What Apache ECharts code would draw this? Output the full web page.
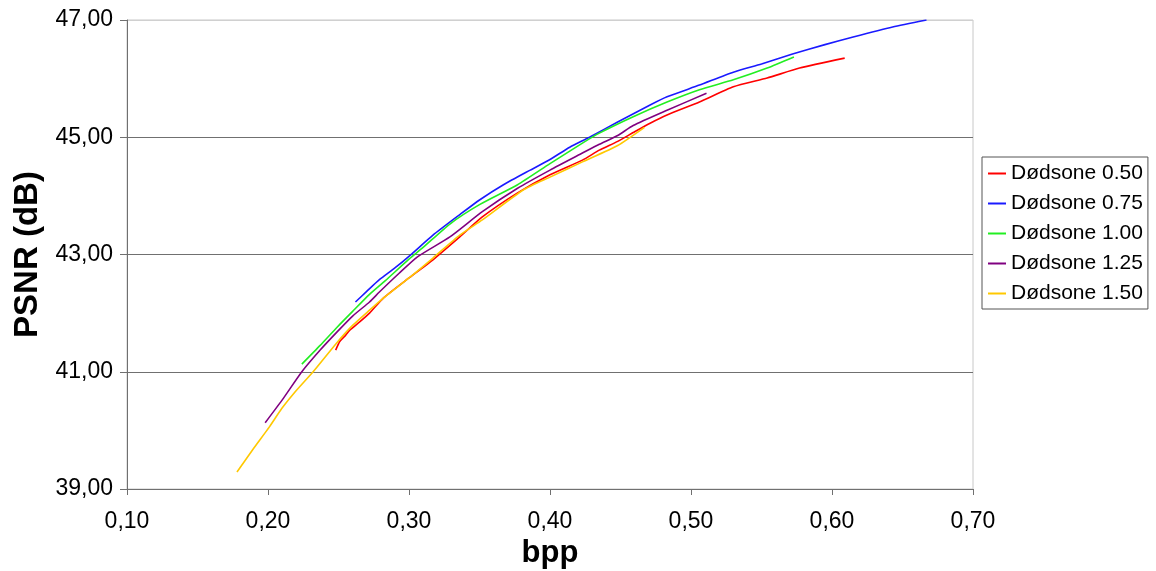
<!DOCTYPE html>
<html>
<head>
<meta charset="utf-8">
<script src="https://cdn.jsdelivr.net/npm/echarts@6/dist/echarts.min.js"></script>
<style>
html,body{margin:0;padding:0;background:#fff;}
#chart{width:1156px;height:571px;}
</style>
</head>
<body>
<div id="chart"></div>
<script>
// Series names
const seriesNames = ['Dødsone 0.50', 'Dødsone 0.75', 'Dødsone 1.00', 'Dødsone 1.25', 'Dødsone 1.50'];
// Axis ticks
const xTicks = [0.10, 0.20, 0.30, 0.40, 0.50, 0.60, 0.70];
const yTicks = [39, 41, 43, 45, 47];

// [bpp, PSNR(dB)]
const dz050 = [[0.248,41.37],[0.251,41.52],[0.255,41.62],[0.258,41.71],[0.265,41.85],[0.272,42.00],[0.282,42.26],[0.300,42.60],[0.317,42.91],[0.336,43.30],[0.352,43.64],[0.377,44.05],[0.400,44.36],[0.423,44.61],[0.435,44.78],[0.448,44.93],[0.459,45.08],[0.471,45.24],[0.483,45.38],[0.506,45.60],[0.530,45.86],[0.554,46.01],[0.577,46.18],[0.609,46.35]];
const dz075 = [[0.262,42.19],[0.270,42.37],[0.279,42.57],[0.290,42.77],[0.301,42.99],[0.317,43.33],[0.336,43.68],[0.350,43.93],[0.367,44.19],[0.386,44.44],[0.400,44.62],[0.414,44.83],[0.428,45.00],[0.448,45.26],[0.471,45.55],[0.483,45.69],[0.506,45.89],[0.530,46.11],[0.550,46.25],[0.572,46.42],[0.595,46.58],[0.615,46.71],[0.643,46.88],[0.667,47.00]];
const dz100 = [[0.224,41.13],[0.237,41.45],[0.249,41.76],[0.260,42.03],[0.272,42.32],[0.283,42.55],[0.300,42.92],[0.310,43.12],[0.329,43.52],[0.350,43.85],[0.377,44.19],[0.400,44.55],[0.423,44.90],[0.435,45.07],[0.459,45.35],[0.483,45.60],[0.506,45.81],[0.530,45.98],[0.554,46.18],[0.573,46.37]];
const dz125 = [[0.198,40.13],[0.211,40.55],[0.224,41.00],[0.237,41.37],[0.249,41.68],[0.260,41.95],[0.272,42.19],[0.279,42.36],[0.293,42.68],[0.306,42.96],[0.329,43.30],[0.352,43.73],[0.377,44.13],[0.400,44.44],[0.423,44.73],[0.435,44.88],[0.448,45.03],[0.459,45.20],[0.483,45.46],[0.511,45.75]];
const dz150 = [[0.178,39.29],[0.190,39.70],[0.201,40.06],[0.210,40.38],[0.219,40.65],[0.232,41.00],[0.249,41.50],[0.260,41.79],[0.272,42.05],[0.282,42.26],[0.300,42.60],[0.317,42.94],[0.336,43.33],[0.352,43.59],[0.381,44.10],[0.400,44.32],[0.423,44.58],[0.448,44.86],[0.467,45.17]];

const seriesData = [dz050, dz075, dz100, dz125, dz150];
const seriesColors = ['#ff0000', '#1a1aff', '#22ee22', '#800080', '#ffc800'];

const fmt = v => v.toFixed(2).replace('.', ',');
const FONT = 'Liberation Sans, Arial, sans-serif';

const chart = echarts.init(document.getElementById('chart'), null, {renderer: 'canvas'});
chart.setOption({
  animation: false,
  backgroundColor: '#fff',
  grid: {left: 127, right: 183, top: 20, bottom: 82, show: true, borderColor: '#c8c8c8', borderWidth: 1,
         containLabel: false, outerBoundsMode: 'none'},
  legend: {
    orient: 'vertical',
    left: 982, top: 157,
    padding: [6, 5, 5, 6],
    itemGap: 9,
    itemWidth: 18, itemHeight: 2,
    icon: 'rect',
    borderColor: '#555', borderWidth: 1,
    textStyle: {fontFamily: FONT, fontSize: 21, color: '#000', padding: [0,0,0,0]},
    data: seriesNames
  },
  xAxis: {
    type: 'value', min: xTicks[0], max: xTicks[xTicks.length-1], interval: 0.1,
    name: 'bpp', nameLocation: 'middle', nameGap: 41,
    nameTextStyle: {fontFamily: FONT, fontSize: 31, fontWeight: 'bold', color: '#000'},
    axisLine: {show: true, lineStyle: {color: '#707070', width: 1}},
    axisTick: {show: true, length: 6, lineStyle: {color: '#707070'}},
    axisLabel: {formatter: fmt, fontFamily: FONT, fontSize: 23, color: '#000', margin: 21},
    splitLine: {show: false}
  },
  yAxis: {
    type: 'value', min: yTicks[0], max: yTicks[yTicks.length-1], interval: 2,
    name: 'PSNR (dB)', nameLocation: 'middle', nameGap: 80,
    nameTextStyle: {fontFamily: FONT, fontSize: 33, fontWeight: 'bold', color: '#000'},
    axisLine: {show: true, lineStyle: {color: '#707070', width: 1}},
    axisTick: {show: true, length: 7, lineStyle: {color: '#707070'}},
    axisLabel: {formatter: fmt, fontFamily: FONT, fontSize: 23, color: '#000', margin: 14},
    splitLine: {show: true, lineStyle: {color: ['#707070','#707070','#707070','#707070','#d0d0d0'], width: 1}}
  },
  series: seriesNames.map((n, i) => ({
    name: n, type: 'line', data: seriesData[i],
    showSymbol: false, symbol: 'none', smooth: 0.2,
    lineStyle: {color: seriesColors[i], width: 1.6},
    itemStyle: {color: seriesColors[i]}
  }))
});
</script>
</body>
</html>
